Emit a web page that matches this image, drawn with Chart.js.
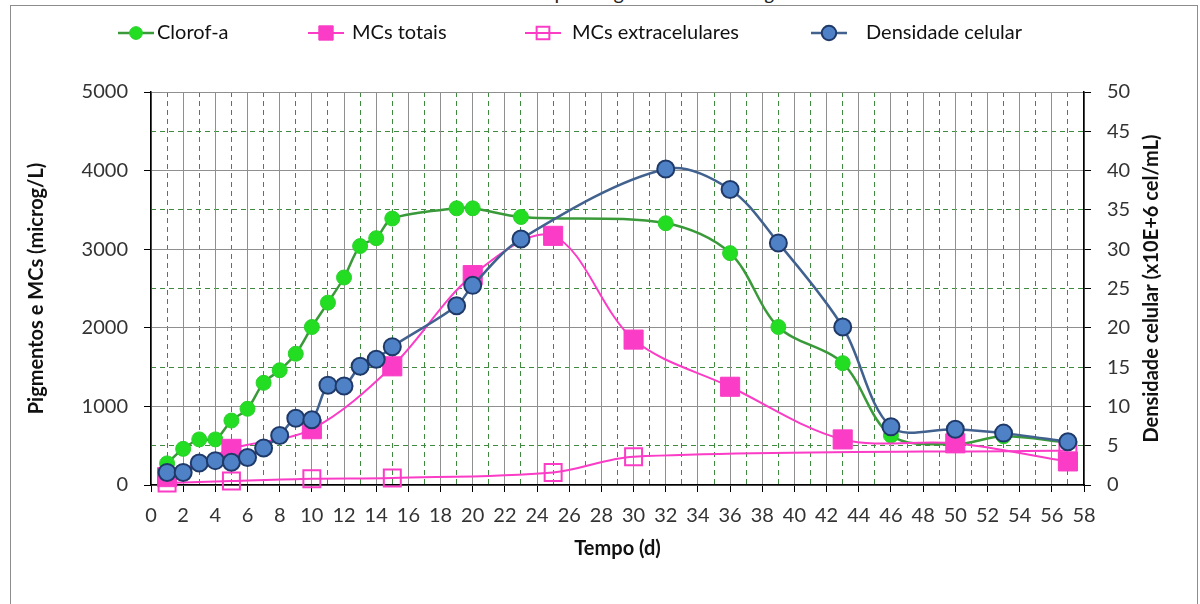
<!DOCTYPE html>
<html><head><meta charset="utf-8">
<script src="https://cdn.jsdelivr.net/npm/chart.js@4"></script>
<style>
html,body{margin:0;padding:0;background:#fff;overflow:hidden;width:1200px;height:604px}
#wrap{position:relative;width:1200px;height:604px;overflow:hidden}
#frame{position:absolute;left:10px;top:5px;width:1188px;height:700px;border:1px solid #8c8c8c;box-sizing:border-box}
#title{position:absolute;left:0;width:1212px;top:-18px;text-align:center;font-family:Lato;font-size:20px;line-height:20px;color:#222;white-space:nowrap}
canvas{position:absolute;left:0;top:0}
</style></head><body>
<div id="wrap"><div id="frame"></div><div id="title">Crescimento da cepa toxigênica de <i>M. aeruginosa</i></div><canvas id="c" width="1200" height="604"></canvas></div>
<script>
// ---- data ----
const clorofDays   = [1,2,3,4,5,6,7,8,9,10,11,12,13,14,15,19,20,23,32,36,39,43,46,50,53,57];
const clorofValues = [275,460,580,580,820,970,1300,1460,1670,2010,2320,2640,3040,3140,3390,3520,3520,3410,3330,2950,2010,1550,630,520,620,540];
const cellDays     = [1,2,3,4,5,6,7,8,9,10,11,12,13,14,15,19,20,23,32,36,39,43,46,50,53,57];
const cellValues   = [1.6,1.6,2.8,3.1,2.9,3.5,4.7,6.3,8.5,8.3,12.7,12.6,15.1,16.0,17.6,22.8,25.4,31.3,40.2,37.6,30.8,20.1,7.4,7.1,6.6,5.5];
const mcTotDays    = [1,5,10,15,20,25,30,36,43,50,57];
const mcTotValues  = [100,460,710,1510,2670,3170,1850,1250,580,530,300];
const mcExtDays    = [1,5,10,15,25,30,57];
const mcExtValues  = [25,50,80,90,160,360,440];
// ---- tick labels ----
const xTickValues  = [0,2,4,6,8,10,12,14,16,18,20,22,24,26,28,30,32,34,36,38,40,42,44,46,48,50,52,54,56,58];
const xMinorTicks  = [1,3,5,7,9,11,13,15,17,19,21,23,25,27,29,31,33,35,37,39,41,43,45,47,49,51,53,55,57];
const leftTicks    = [0,1000,2000,3000,4000,5000];
const leftMinor    = [500,1500,2500,3500,4500];
const rightTicks   = [0,5,10,15,20,25,30,35,40,45,50];

const GREEN_LINE='#3a9a3a', GREEN_FILL='#22dd22', PINK='#fa3cc6', BLUE_FILL='#4f81c7', BLUE_EDGE='#1f3a68', BLUE_LINE='#41618f';
const GRID_GRAY='#8f8f8f', GRID_GREEN='#3f8a3f';
const FONT='Lato';

function pts(xs, ys){ return xs.map((d,i)=>({x:d, y:ys[i]})); }
function setTicks(arr){ return s => { s.ticks = arr.map(v=>({value:v})); }; }
const plain = v => String(v);

const legendItems = [
  {ds:0, icon:118, text:157},
  {ds:1, icon:308, text:352},
  {ds:2, icon:525, text:572},
  {ds:3, icon:811, text:866}
];

function drawMarker(ctx, ds, x, y){
  ctx.save();
  const st = ds.pointStyle, r = ds.pointRadius;
  ctx.lineWidth = ds.pointBorderWidth; ctx.strokeStyle = ds.pointBorderColor; ctx.fillStyle = ds.pointBackgroundColor;
  ctx.beginPath();
  if (st === 'rect') { const s = Math.SQRT1_2 * r; ctx.rect(x - s, y - s, 2*s, 2*s); }
  else { ctx.arc(x, y, r, 0, Math.PI*2); }
  ctx.fill(); if (ds.pointBorderWidth) ctx.stroke();
  ctx.restore();
}

const customLegend = {
  id:'customLegend',
  afterDraw(chart){
    const ctx = chart.ctx, y = 33;
    legendItems.forEach(it=>{
      const ds = chart.data.datasets[it.ds];
      ctx.save();
      ctx.strokeStyle = ds.borderColor; ctx.lineWidth = ds.borderWidth;
      ctx.beginPath(); ctx.moveTo(it.icon, y); ctx.lineTo(it.icon + 36, y); ctx.stroke();
      ctx.restore();
      const mr = Object.assign({}, ds, {pointRadius: ds.pointStyle==='rect' ? ds.pointRadius*0.75 : ds.pointRadius*0.85});
      drawMarker(ctx, mr, it.icon + 18, y);
      ctx.save();
      ctx.font = '20px ' + FONT; ctx.fillStyle = '#111'; ctx.textAlign='left'; ctx.textBaseline='middle';
      ctx.fillText(ds.label, it.text, y);
      ctx.restore();
    });
    // right axis title (reads bottom-to-top)
    const ca = chart.chartArea;
    ctx.save();
    ctx.translate(1152, (ca.top + ca.bottom)/2);
    ctx.rotate(-Math.PI/2);
    ctx.font = 'bold 20px ' + FONT; ctx.fillStyle = '#111'; ctx.textAlign='center'; ctx.textBaseline='middle';
    ctx.fillText('Densidade celular (x10E+6 cel/mL)', 0, 0);
    ctx.restore();
  }
};

new Chart(document.getElementById('c'), {
  type:'line',
  data:{ datasets:[
    { label:'Clorof-a', data:pts(clorofDays, clorofValues), xAxisID:'x', yAxisID:'y',
      borderColor:GREEN_LINE, backgroundColor:GREEN_FILL, borderWidth:2.5, tension:0.33,
      pointStyle:'circle', pointRadius:7.5, pointBackgroundColor:GREEN_FILL, pointBorderColor:'#2bd02b', pointBorderWidth:1, order:3, clip:false },
    { label:'MCs totais', data:pts(mcTotDays, mcTotValues), xAxisID:'x', yAxisID:'y',
      borderColor:PINK, backgroundColor:PINK, borderWidth:2, tension:0.33,
      pointStyle:'rect', pointRadius:13.5, pointBackgroundColor:PINK, pointBorderColor:PINK, pointBorderWidth:1, order:1, clip:false },
    { label:'MCs extracelulares', data:pts(mcExtDays, mcExtValues), xAxisID:'x', yAxisID:'y',
      borderColor:PINK, backgroundColor:'rgba(255,255,255,0)', borderWidth:2, tension:0.33,
      pointStyle:'rect', pointRadius:12, pointBackgroundColor:'rgba(255,255,255,0)', pointBorderColor:PINK, pointBorderWidth:2, order:2, clip:false },
    { label:'Densidade celular', data:pts(cellDays, cellValues), xAxisID:'x', yAxisID:'y2',
      borderColor:BLUE_LINE, backgroundColor:BLUE_FILL, borderWidth:2.5, tension:0.33,
      pointStyle:'circle', pointRadius:8.5, pointBackgroundColor:BLUE_FILL, pointBorderColor:BLUE_EDGE, pointBorderWidth:2, order:0, clip:false }
  ]},
  options:{
    responsive:false, animation:false, devicePixelRatio:1,
    layout:{ padding:{top:14,left:0,right:0,bottom:0} },
    plugins:{ legend:{display:false}, tooltip:{enabled:false}, title:{display:false} },
    scales:{
      xMinor:{ type:'linear', position:'top', min:0, max:58, afterBuildTicks:setTicks(xMinorTicks),
        afterFit:s=>{ s.height = 78; },
        ticks:{display:false}, grid:{color:GRID_GREEN, lineWidth:1, drawTicks:false, borderDash:[5,4]},
        border:{display:false, dash:[5,4]} },
      yMinor:{ type:'linear', position:'left', min:0, max:5000, afterBuildTicks:setTicks(leftMinor),
        afterFit:s=>{ s.width = 0; },
        ticks:{display:false}, grid:{color:GRID_GREEN, lineWidth:1, drawTicks:false, borderDash:[5,4]},
        border:{display:false, dash:[5,4]} },
      x:{ type:'linear', position:'bottom', min:0, max:58, afterBuildTicks:setTicks(xTickValues),
        afterFit:s=>{ s.height = 119; },
        grid:{color:GRID_GRAY, lineWidth:1, tickColor:'#000', tickLength:7},
        border:{color:'#000', width:1.5},
        ticks:{font:{family:FONT,size:20}, color:'#333', padding:12, maxRotation:0, autoSkip:false, callback:plain},
        title:{display:true, text:'Tempo (d)', font:{family:FONT,size:20,weight:'bold'}, color:'#111', padding:{top:0,bottom:43}} },
      y:{ type:'linear', position:'left', min:0, max:5000, afterBuildTicks:setTicks(leftTicks),
        afterFit:s=>{ s.width = 151; },
        grid:{color:GRID_GRAY, lineWidth:1, tickColor:'#000', tickLength:7},
        border:{color:'#000', width:1.5},
        ticks:{font:{family:FONT,size:20}, color:'#333', padding:16, callback:plain},
        title:{display:true, text:'Pigmentos e MCs (microg/L)', font:{family:FONT,size:20,weight:'bold'}, color:'#111', padding:{top:25,bottom:0}} },
      y2:{ type:'linear', position:'right', min:0, max:50, afterBuildTicks:setTicks(rightTicks),
        afterFit:s=>{ s.width = 116; },
        grid:{drawOnChartArea:false, tickColor:'#000', tickLength:7},
        border:{color:'#000', width:1.5},
        ticks:{font:{family:FONT,size:20}, color:'#333', padding:16, callback:plain},
        title:{display:false} }
    }
  },
  plugins:[customLegend]
});
</script>
</body></html>
